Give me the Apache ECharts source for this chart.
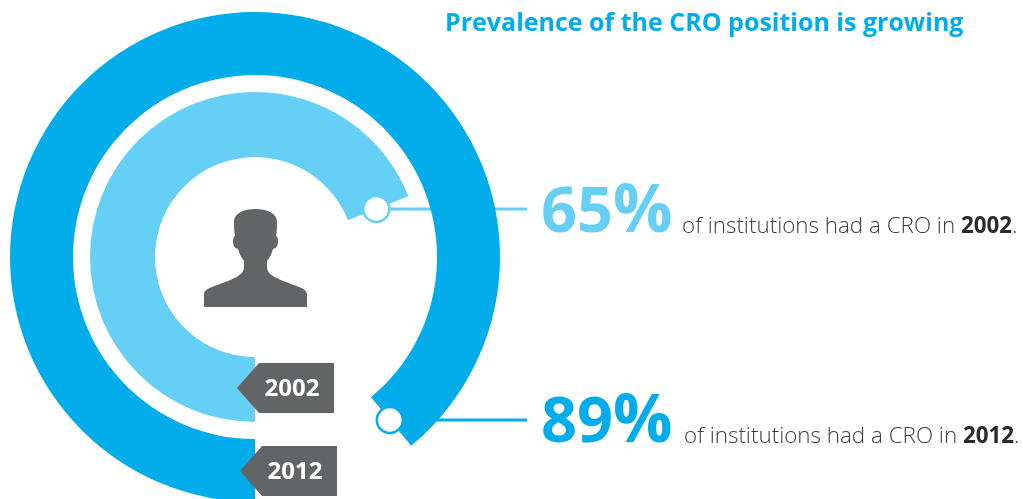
<!DOCTYPE html>
<html lang="en">
<head>
    <meta charset="UTF-8">
    <title>Prevalence of the CRO position</title>
    <script src="https://cdn.jsdelivr.net/npm/echarts@6/dist/echarts.min.js"></script>
    <style>
        html, body { margin: 0; padding: 0; background: #fff; }
        #chart { width: 1023px; height: 499px; }
    </style>
</head>
<body>
<div id="chart"></div>

<script>
    const years = ['2002', '2012'];
    const percents = [65, 89];
    // sweep of each ring as drawn in the picture, the 2002 arc runs a bit past its 65% label
    const sweepPercents = [69, 89];
    const colors = ['#66CFF6', '#00ACE9'];
    const titleText = 'Prevalence of the CRO position is growing';
    const captionText = 'of institutions had a CRO in ';

    const cx = 255, cy = 257;
    const radii = [[100, 165], [182, 245]];
    const grey = '#636466';
    const font = '"Open Sans", sans-serif';

    function ringSeries(i) {
        return {
            type: 'pie',
            silent: true,
            animation: false,
            center: [cx, cy],
            radius: radii[i],
            startAngle: 270,
            clockwise: true,
            label: { show: false },
            labelLine: { show: false },
            data: [
                { value: sweepPercents[i], name: years[i], itemStyle: { color: colors[i] } },
                { value: 100 - sweepPercents[i], name: 'rest', itemStyle: { color: 'transparent' } }
            ]
        };
    }

    // marker sits at the end of the arc, halfway through the ring
    function arcEnd(i) {
        let r = (radii[i][0] + radii[i][1]) / 2 - 2;
        let a = (sweepPercents[i] / 100) * Math.PI * 2;
        return [cx - Math.sin(a) * r, cy + Math.cos(a) * r];
    }

    function tag(i, tipX, midY) {
        return [
            {
                type: 'polygon',
                z: 10,
                shape: {
                    points: [[tipX, midY], [tipX + 22, midY - 25], [tipX + 97, midY - 25],
                        [tipX + 97, midY + 25], [tipX + 22, midY + 25]]
                },
                style: { fill: grey }
            },
            {
                type: 'text',
                z: 11,
                x: tipX + 55, y: midY + 1,
                style: {
                    text: years[i], fill: '#fff', font: 'bold 24px ' + font,
                    align: 'center', verticalAlign: 'middle'
                }
            }
        ];
    }

    function callout(i, textY, numX, capX) {
        let end = arcEnd(i);
        return [
            {
                // leader runs under the pie, so the dark ring cuts the 2002 line
                type: 'line',
                z: -1,
                shape: { x1: end[0], y1: end[1], x2: 527, y2: end[1] },
                style: { stroke: colors[i], lineWidth: 3 }
            },
            {
                type: 'circle',
                z: 10,
                shape: { cx: end[0], cy: end[1], r: 13 },
                style: { fill: '#fff', stroke: colors[i], lineWidth: 2.5 }
            },
            {
                type: 'text',
                z: 10,
                x: numX, y: textY - 19,
                style: {
                    text: String(percents[i]), fill: colors[i], font: 'bold 63px ' + font,
                    verticalAlign: 'middle'
                }
            },
            {
                // the % sign is drawn larger than the digits
                type: 'text',
                z: 10,
                x: numX + 72, y: textY - 20,
                style: {
                    text: '%', fill: colors[i], font: 'bold 66px ' + font,
                    verticalAlign: 'middle'
                }
            },
            {
                type: 'text',
                z: 10,
                x: capX, y: textY - 6,
                style: {
                    text: '{n|' + captionText + '}{b|' + years[i] + '}{n|.}',
                    verticalAlign: 'middle',
                    rich: {
                        n: { font: '300 22.4px ' + font, fill: '#3d3d3f' },
                        b: { font: 'bold 22.4px ' + font, fill: '#2b2a2c' }
                    }
                }
            }
        ];
    }

    const personPath = 'M204 307 L204 294 C204 291 207 289 212 287 C222 283 232 280 238 276 ' +
        'C243 273 244 270 244 265 L244 261 C241 257 239 253 238 249 C234 248 233 245 233 241 ' +
        'C233 238 234 236 235 236 C234 231 234 226 234 222 C234 213 244 209 255 209 ' +
        'C267 209 277 213 277 222 C277 226 277 231 276 236 C277 236 278 238 278 241 ' +
        'C278 245 277 248 273 249 C272 253 270 257 267 261 L267 265 C267 270 268 273 273 276 ' +
        'C279 280 289 283 299 287 C304 289 307 291 307 294 L307 307 Z';

    let personSeries = {
        type: 'custom',
        coordinateSystem: 'none',
        silent: true,
        data: [[0]],
        renderItem: function () {
            return {
                type: 'path',
                shape: { pathData: personPath, x: 204, y: 209, width: 103, height: 98, layout: 'cover' },
                style: { fill: grey }
            };
        }
    };

    let chart = echarts.init(document.getElementById('chart'));
    chart.setOption({
        animation: false,
        title: {
            text: titleText,
            left: 445,
            top: 11,
            padding: 0,
            textStyle: { color: colors[1], fontFamily: font, fontWeight: 'bold', fontSize: 25 }
        },
        series: [ringSeries(1), ringSeries(0), personSeries],
        graphic: [].concat(
            tag(0, 237, 388),
            tag(1, 240, 471),
            callout(0, 233, 541, 682),
            callout(1, 443, 541, 684)
        )
    });
</script>
</body>
</html>
